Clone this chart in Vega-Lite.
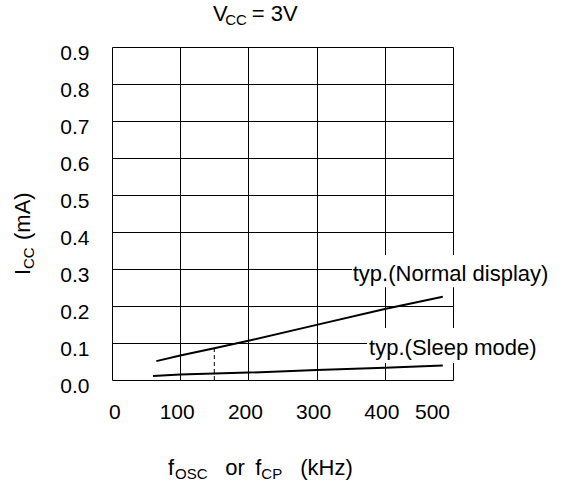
{
  "$schema": "https://vega.github.io/schema/vega-lite/v6.json",
  "width": 341,
  "height": 333,
  "autosize": {"type": "none"},
  "padding": {"left": 112, "top": 47, "right": 111, "bottom": 104},
  "background": "white",
  "config": {
    "view": {"stroke": null},
    "font": "Liberation Sans",
    "axis": {
      "grid": true,
      "gridColor": "#000000",
      "gridOpacity": 1,
      "gridWidth": 1,
      "domain": false,
      "ticks": false,
      "tickSize": 0,
      "labelFont": "Liberation Sans",
      "labelFontSize": 21,
      "labelColor": "#000000",
      "title": null
    },
    "text": {"font": "Liberation Sans", "color": "#000000", "align": "left", "baseline": "alphabetic"}
  },
  "datasets": {
    "curves": [
      {"mode": "normal", "f": 65, "i": 0.051},
      {"mode": "normal", "f": 100, "i": 0.066},
      {"mode": "normal", "f": 150, "i": 0.086},
      {"mode": "normal", "f": 200, "i": 0.106},
      {"mode": "normal", "f": 300, "i": 0.149},
      {"mode": "normal", "f": 400, "i": 0.192},
      {"mode": "normal", "f": 485, "i": 0.225},
      {"mode": "sleep", "f": 60, "i": 0.011},
      {"mode": "sleep", "f": 100, "i": 0.015},
      {"mode": "sleep", "f": 200, "i": 0.020},
      {"mode": "sleep", "f": 300, "i": 0.027},
      {"mode": "sleep", "f": 400, "i": 0.033},
      {"mode": "sleep", "f": 485, "i": 0.039}
    ],
    "boxes": [
      {"f": 352, "f2": 651, "i": 0.338, "i2": 0.251},
      {"f": 374, "f2": 635, "i": 0.1405, "i2": 0.046}
    ],
    "dash": [{"f": 150, "i": 0, "i2": 0.086}],
    "texts": [
      {"t": "V", "f": 148, "i": 0.970, "k": "main"},
      {"t": "CC", "f": 166, "i": 0.9595, "k": "sub"},
      {"t": "= 3V", "f": 205, "i": 0.970, "k": "main"},
      {"t": "f", "f": 82, "i": -0.2568, "k": "main"},
      {"t": "OSC", "f": 92.5, "i": -0.2676, "k": "sub"},
      {"t": "or", "f": 166, "i": -0.2568, "k": "main"},
      {"t": "f", "f": 210, "i": -0.2568, "k": "main"},
      {"t": "CP", "f": 219, "i": -0.2676, "k": "sub"},
      {"t": "(kHz)", "f": 276, "i": -0.2568, "k": "main"},
      {"t": "typ.(Normal display)", "f": 353, "i": 0.2676, "k": "note"},
      {"t": "typ.(Sleep mode)", "f": 377, "i": 0.0676, "k": "note"},
      {"t": "I", "f": -120, "i": 0.2838, "k": "vmain"},
      {"t": "CC", "f": -114, "i": 0.3, "k": "vsub"},
      {"t": "(mA)", "f": -120, "i": 0.3784, "k": "vmain"}
    ]
  },
  "encoding": {
    "x": {
      "field": "f", "type": "quantitative",
      "scale": {"domain": [0, 500], "nice": false, "zero": false},
      "axis": {"values": [0, 100, 200, 300, 400, 500], "labelPadding": 21, "labelOffset": -3.5}
    },
    "y": {
      "field": "i", "type": "quantitative",
      "scale": {"domain": [0, 0.9], "nice": false, "zero": false},
      "axis": {"values": [0, 0.1, 0.2, 0.3, 0.4, 0.5, 0.6, 0.7, 0.8, 0.9], "format": ".1f", "labelPadding": 23, "labelOffset": 6}
    }
  },
  "layer": [
    {
      "data": {"name": "boxes"},
      "mark": {"type": "rect", "fill": "white", "stroke": null},
      "encoding": {"x2": {"field": "f2"}, "y2": {"field": "i2"}}
    },
    {
      "data": {"name": "curves"},
      "mark": {"type": "line", "color": "#000000", "strokeWidth": 2},
      "encoding": {"detail": {"field": "mode"}}
    },
    {
      "data": {"name": "dash"},
      "mark": {"type": "rule", "color": "#000000", "strokeWidth": 1, "strokeDash": [4, 3]},
      "encoding": {"y2": {"field": "i2"}}
    },
    {
      "data": {"name": "texts"},
      "transform": [{"filter": "datum.k === 'main'"}],
      "mark": {"type": "text", "fontSize": 22},
      "encoding": {"text": {"field": "t"}}
    },
    {
      "data": {"name": "texts"},
      "transform": [{"filter": "datum.k === 'sub'"}],
      "mark": {"type": "text", "fontSize": 15},
      "encoding": {"text": {"field": "t"}}
    },
    {
      "data": {"name": "texts"},
      "transform": [{"filter": "datum.k === 'note'"}],
      "mark": {"type": "text", "fontSize": 22},
      "encoding": {"text": {"field": "t"}}
    },
    {
      "data": {"name": "texts"},
      "transform": [{"filter": "datum.k === 'vmain'"}],
      "mark": {"type": "text", "fontSize": 22, "angle": 270},
      "encoding": {"text": {"field": "t"}}
    },
    {
      "data": {"name": "texts"},
      "transform": [{"filter": "datum.k === 'vsub'"}],
      "mark": {"type": "text", "fontSize": 15, "angle": 270},
      "encoding": {"text": {"field": "t"}}
    }
  ]
}
